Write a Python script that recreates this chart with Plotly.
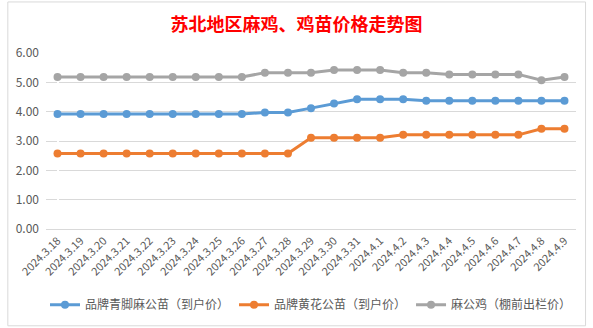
import plotly.graph_objects as go

dates = ["2024.3.18","2024.3.19","2024.3.20","2024.3.21","2024.3.22","2024.3.23","2024.3.24",
         "2024.3.25","2024.3.26","2024.3.27","2024.3.28","2024.3.29","2024.3.30","2024.3.31",
         "2024.4.1","2024.4.2","2024.4.3","2024.4.4","2024.4.5","2024.4.6","2024.4.7","2024.4.8","2024.4.9"]
qingjiao = [3.92,3.92,3.92,3.92,3.92,3.92,3.92,3.92,3.92,3.97,3.97,4.12,4.28,4.42,4.42,4.42,4.37,4.37,4.37,4.37,4.37,4.37,4.37]
huanghua = [2.57,2.57,2.57,2.57,2.57,2.57,2.57,2.57,2.57,2.57,2.57,3.11,3.11,3.11,3.11,3.21,3.21,3.21,3.21,3.21,3.21,3.42,3.42]
magongji = [5.18,5.18,5.18,5.18,5.18,5.18,5.18,5.18,5.18,5.33,5.33,5.33,5.42,5.42,5.42,5.33,5.33,5.27,5.27,5.27,5.27,5.07,5.18]
names = ["品牌青脚麻公苗（到户价）", "品牌黄花公苗（到户价）", "麻公鸡（棚前出栏价）"]
colors = ["#5B9BD5", "#ED7D31", "#A5A5A5"]
title = "苏北地区麻鸡、鸡苗价格走势图"
yticks = [0, 1, 2, 3, 4, 5, 6]

font = "Microsoft YaHei, Noto Sans CJK SC, sans-serif"
fig = go.Figure()
for vals, name, c in zip([qingjiao, huanghua, magongji], names, colors):
    fig.add_trace(go.Scatter(x=list(range(len(dates))), y=vals, name=name, mode="lines+markers",
                             line=dict(color=c, width=3), marker=dict(color=c, size=8)))

fig.update_layout(
    width=593, height=328,
    margin=dict(l=46, r=17, t=53, b=99, autoexpand=False),
    paper_bgcolor="white", plot_bgcolor="white",
    title=dict(text=title, x=0.5, xanchor="center", y=0.925, yanchor="middle",
               font=dict(family="Noto Sans CJK SC", size=18, color="#FF0000", weight="bold")),
    font=dict(family=font, size=12, color="#595959"),
    showlegend=True,
    legend=dict(orientation="h", x=0.5, xanchor="center", y=-0.43, yanchor="middle",
                font=dict(size=12, color="#595959"), itemwidth=30, tracegroupgap=0),
    xaxis=dict(tickmode="array", tickvals=list(range(len(dates))), ticktext=dates,
               range=[-0.5, len(dates) - 0.5], tickangle=-45, showgrid=False, automargin=False,
               showline=True, linecolor="#D9D9D9", linewidth=1, ticks="",
               tickfont=dict(size=11, color="#595959")),
    yaxis=dict(range=[0, 6], tickvals=yticks, ticktext=[f"{v:.2f}" for v in yticks], automargin=False,
               showgrid=True, gridcolor="#D9D9D9", gridwidth=1, zeroline=False,
               showline=False, ticks="", ticklabelstandoff=6, tickfont=dict(size=12, color="#595959")),
)
fig.add_shape(type="rect", xref="paper", yref="paper", x0=-0.072, x1=1.018, y0=-0.55, y1=1.29,
              line=dict(color="#D9D9D9", width=1), fillcolor="rgba(0,0,0,0)", layer="below")
fig.write_html("out.html")
